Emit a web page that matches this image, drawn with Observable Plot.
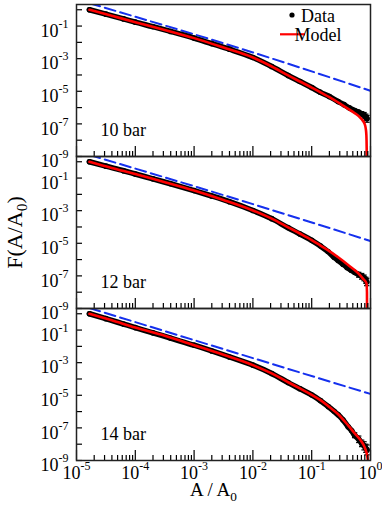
<!DOCTYPE html>
<html><head><meta charset="utf-8">
<script src="https://cdn.jsdelivr.net/npm/d3@7"></script>
<script src="https://cdn.jsdelivr.net/npm/@observablehq/plot@0.6"></script>
<style>html,body{margin:0;padding:0;background:#fff}#chart{width:382px;height:522px}</style>
</head><body><div id="chart"></div>
<script>
const panels = ["10 bar", "12 bar", "14 bar"];

// Data (log10 A/A0, log10 F)
const d10LogA = [-4.78,-4.5,-4.2,-4.0,-3.7,-3.4,-3.0,-2.7,-2.4,-2.0,-1.68,-1.4,-1.2,-1.0,-0.86,-0.7,-0.55,-0.45,-0.36,-0.27,-0.2,-0.15,-0.11,-0.08,-0.06];
const d10LogF = [0,-0.27,-0.56,-0.76,-1.04,-1.33,-1.74,-2.08,-2.42,-2.93,-3.48,-4.03,-4.4,-4.77,-5.05,-5.32,-5.63,-5.82,-6.02,-6.18,-6.28,-6.38,-6.47,-6.58,-6.68];
const d12LogA = [-4.78,-4.5,-4.2,-4.0,-3.7,-3.4,-3.0,-2.7,-2.4,-2.0,-1.68,-1.4,-1.2,-1.0,-0.85,-0.72,-0.62,-0.55,-0.47,-0.4,-0.33,-0.27,-0.2,-0.15,-0.11,-0.08,-0.065];
const d12LogF = [0,-0.27,-0.55,-0.75,-1.05,-1.35,-1.77,-2.1,-2.45,-2.99,-3.49,-4.05,-4.43,-4.82,-5.17,-5.52,-5.85,-6.05,-6.28,-6.48,-6.65,-6.78,-6.92,-7.02,-7.12,-7.26,-7.38];
const d14LogA = [-4.78,-4.5,-4.2,-4.0,-3.7,-3.4,-3.0,-2.7,-2.4,-2.0,-1.68,-1.4,-1.2,-1.0,-0.85,-0.72,-0.62,-0.55,-0.47,-0.38,-0.32,-0.27,-0.2,-0.15,-0.11,-0.08,-0.06];
const d14LogF = [0,-0.3,-0.63,-0.85,-1.17,-1.5,-1.93,-2.28,-2.65,-3.15,-3.66,-4.22,-4.6,-4.98,-5.33,-5.69,-5.98,-6.2,-6.5,-6.93,-7.18,-7.45,-7.7,-7.95,-8.1,-8.25,-8.35];

// Error bars on the tail points
const e10LogA = [-0.15,-0.11,-0.08,-0.06];
const e10Lo = [-6.55,-6.65,-6.78,-6.9];
const e10Hi = [-6.25,-6.3,-6.4,-6.48];
const e12LogA = [-0.2,-0.15,-0.11,-0.08,-0.065];
const e12Lo = [-7.08,-7.2,-7.3,-7.45,-7.6];
const e12Hi = [-6.78,-6.85,-6.95,-7.08,-7.15];
const e14LogA = [-0.27,-0.2,-0.15,-0.11,-0.08,-0.06];
const e14Lo = [-7.6,-7.9,-8.15,-8.35,-8.5,-8.65];
const e14Hi = [-7.3,-7.5,-7.75,-7.85,-8.0,-8.05];

// Model curves
const m10LogA = [-4.78,-4.4,-4.0,-3.5,-3.0,-2.5,-2.0,-1.68,-1.4,-1.2,-1.0,-0.85,-0.7,-0.5,-0.32,-0.2,-0.15,-0.1,-0.08,-0.07,-0.065,-0.062];
const m10LogF = [0,-0.37,-0.76,-1.24,-1.74,-2.32,-2.93,-3.48,-4.03,-4.4,-4.77,-5.07,-5.36,-5.8,-6.22,-6.52,-6.72,-7.0,-7.3,-7.7,-8.5,-11];
const m12LogA = [-4.78,-4.4,-4.0,-3.5,-3.0,-2.5,-2.0,-1.68,-1.4,-1.2,-1.0,-0.85,-0.7,-0.55,-0.38,-0.21,-0.125,-0.068,-0.06,-0.058];
const m12LogF = [0,-0.38,-0.75,-1.25,-1.77,-2.35,-2.99,-3.49,-4.02,-4.4,-4.8,-5.14,-5.48,-5.86,-6.33,-6.83,-7.18,-7.46,-8.0,-11];
const m14LogA = [-4.78,-4.4,-4.0,-3.5,-3.0,-2.5,-2.0,-1.68,-1.4,-1.2,-1.0,-0.85,-0.7,-0.55,-0.38,-0.27,-0.15,-0.1,-0.07,-0.05,-0.04,-0.035];
const m14LogF = [0,-0.4,-0.85,-1.35,-1.93,-2.52,-3.15,-3.66,-4.2,-4.58,-4.97,-5.3,-5.72,-6.16,-6.85,-7.33,-7.85,-8.18,-8.5,-8.85,-9.3,-10.5];

// Power-law (dashed) lines
const p10LogA = [-4.78, -2, 0], p10LogF = [0.4, -2.62, -4.97];
const p12LogA = [-4.78, -2, 0], p12LogF = [0.42, -2.6, -4.86];
const p14LogA = [-4.78, -2, 0], p14LogF = [0.35, -2.72, -4.92];

// Ticks
const xMajorTicks = [1e-5, 1e-4, 1e-3, 1e-2, 1e-1, 1];
const xMinorMult = [2,3,4,5,6,7,8,9];
const yTicks = [1, 1e-1, 1e-2, 1e-3, 1e-4, 1e-5, 1e-6, 1e-7, 1e-8, 1e-9];
const yLabelTicks = [1e-1, 1e-3, 1e-5, 1e-7, 1e-9];
const xMinorTicks = xMajorTicks.slice(0, -1).flatMap(d => xMinorMult.map(m => d * m));

const rows = (panel, A, F) => A.map((v, i) => ({panel, a: 10 ** v, f: 10 ** F[i]}));
const errRows = (panel, A, lo, hi) => A.map((v, i) => ({panel, a: 10 ** v, lo: 10 ** lo[i], hi: 10 ** hi[i]}));

const data = [...rows(panels[0], d10LogA, d10LogF), ...rows(panels[1], d12LogA, d12LogF), ...rows(panels[2], d14LogA, d14LogF)];
const model = [...rows(panels[0], m10LogA, m10LogF), ...rows(panels[1], m12LogA, m12LogF), ...rows(panels[2], m14LogA, m14LogF)];
const power = [...rows(panels[0], p10LogA, p10LogF), ...rows(panels[1], p12LogA, p12LogF), ...rows(panels[2], p14LogA, p14LogF)];
const errs = [...errRows(panels[0], e10LogA, e10Lo, e10Hi), ...errRows(panels[1], e12LogA, e12Lo, e12Hi), ...errRows(panels[2], e14LogA, e14Lo, e14Hi)];

const capSymbol = {draw(ctx, size) { const w = Math.sqrt(size) / 2; ctx.moveTo(-w, 0); ctx.lineTo(w, 0); }};
const fmt = d => "10^" + Math.round(Math.log10(d));

const plot = Plot.plot({
  width: 382, height: 522,
  marginLeft: 76, marginRight: 12, marginTop: 3, marginBottom: 61,
  style: {fontFamily: "Liberation Serif", fontSize: "18px", background: "white", color: "black", overflow: "visible"},
  x: {type: "log", domain: [1e-5, 1]},
  y: {type: "log", domain: [1e-9, 2.1]},
  fy: {domain: panels, padding: 0, axis: null, label: null},
  marks: [
    Plot.line(power, {x: "a", y: "f", fy: "panel", stroke: "#1530ee", strokeWidth: 2, strokeDasharray: "11,5", curve: "monotone-x", clip: true}),
    Plot.ruleX(errs, {x: "a", y1: "lo", y2: "hi", fy: "panel", stroke: "black", strokeWidth: 1.2}),
    Plot.dot(errs, {x: "a", y: "lo", fy: "panel", symbol: capSymbol, r: 3, stroke: "black", fill: "none", strokeWidth: 1.2}),
    Plot.dot(errs, {x: "a", y: "hi", fy: "panel", symbol: capSymbol, r: 3, stroke: "black", fill: "none", strokeWidth: 1.2}),
    Plot.line(data, {x: "a", y: "f", fy: "panel", stroke: "black", strokeWidth: 5.5, curve: "monotone-x"}),
    Plot.dot(data, {x: "a", y: "f", fy: "panel", r: 2.8, fill: "black"}),
    Plot.line(model, {x: "a", y: "f", fy: "panel", stroke: "#ff0000", strokeWidth: 2.6, curve: "monotone-x", clip: true}),
    Plot.axisY(yTicks, {tickSize: -6, tickFormat: () => "", label: null, facetAnchor: null, strokeWidth: 1.2}),
    Plot.axisY(yLabelTicks, {tickSize: 0, tickPadding: 8, dy: 5, tickFormat: fmt, label: null, facetAnchor: null}),
    Plot.axisX(xMajorTicks, {tickSize: -10, tickFormat: () => "", label: null, facetAnchor: null, strokeWidth: 1.2}),
    Plot.axisX(xMinorTicks, {tickSize: -5, tickFormat: () => "", label: null, facetAnchor: null, strokeWidth: 1.2}),
    Plot.axisX(xMajorTicks, {tickSize: 0, tickPadding: 6, tickFormat: fmt, label: null, facetAnchor: "bottom"}),
    Plot.frame({stroke: "#222", strokeWidth: 1.5}),
    Plot.text(panels.map(p => ({panel: p, label: p})), {fy: "panel", text: "label", frameAnchor: "bottom-left", dx: 24, dy: -26, textAnchor: "start", lineAnchor: "middle", fontSize: 18}),
    Plot.text([{panel: panels[1], label: "F(A/A_0)"}], {fy: "panel", text: "label", frameAnchor: "left", rotate: -90, dx: -62, textAnchor: "middle", lineAnchor: "middle", fontSize: 22}),
    Plot.text([{panel: panels[2], label: "A / A_0"}], {fy: "panel", text: "label", frameAnchor: "bottom", dx: -10, dy: 29, textAnchor: "middle", lineAnchor: "middle", fontSize: 19})
  ]
});

document.getElementById("chart").appendChild(plot);

const svg = d3.select(plot);
svg.selectAll("text").each(function() {
  const t = this.textContent;
  const el = d3.select(this);
  let m = t.match(/^10\^(-?\d+)$/);
  if (m) {
    el.text("10");
    el.append("tspan").attr("dy", "-9").attr("font-size", "12px").text(m[1]);
    return;
  }
  m = t.match(/^(.*)_0(\)?)$/);
  if (m) {
    el.text(m[1]);
    el.append("tspan").attr("dy", "5").attr("font-size", "0.7em").text("0");
    if (m[2]) el.append("tspan").attr("dy", "-5").text(m[2]);
  }
});

// Legend
const lg = svg.append("g").attr("font-family", "Liberation Serif").attr("font-size", 18).attr("fill", "black");
lg.append("circle").attr("cx", 292).attr("cy", 15).attr("r", 2.6).attr("fill", "black");
lg.append("text").attr("x", 318).attr("y", 21.5).text("Data");
lg.append("line").attr("x1", 280).attr("x2", 305).attr("y1", 34.3).attr("y2", 34.3).attr("stroke", "#ff0000").attr("stroke-width", 2.2);
lg.append("text").attr("x", 318).attr("y", 41).text("Model");
</script>
</body></html>
